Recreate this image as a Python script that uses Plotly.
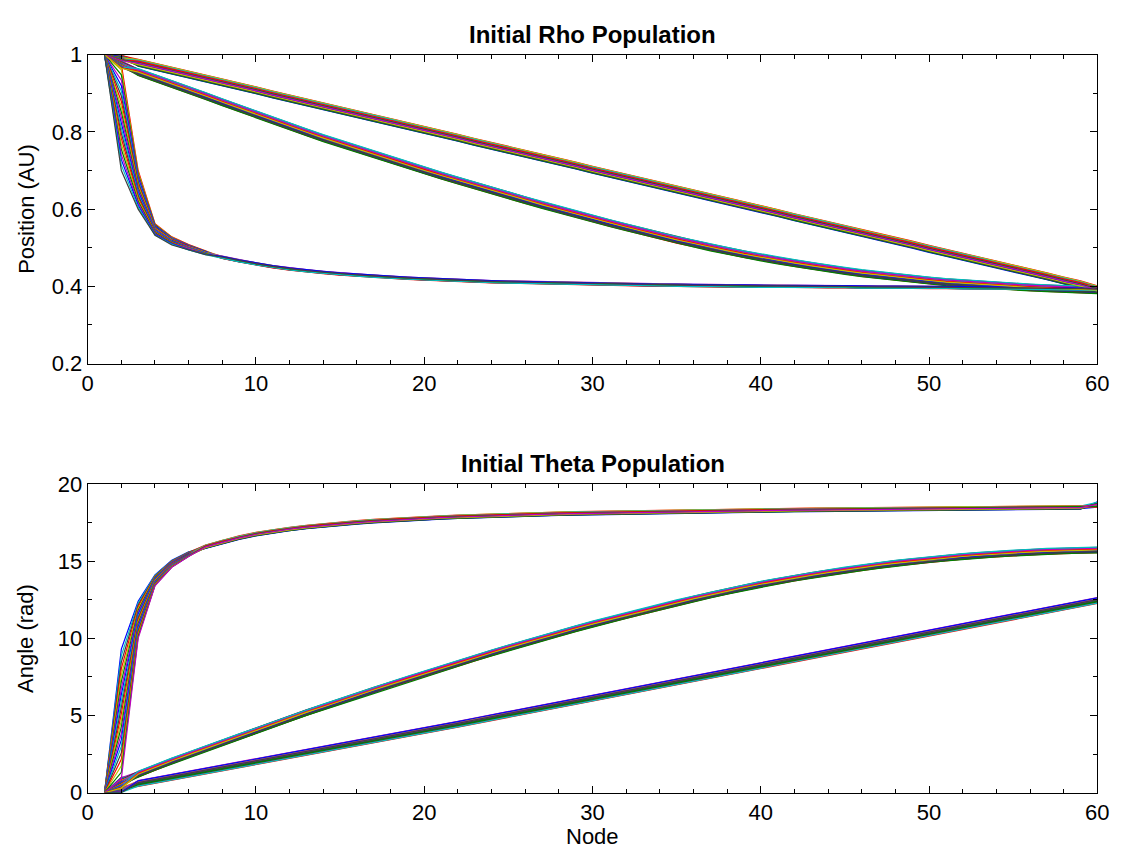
import plotly.graph_objects as go

# ---------------- data ----------------
NODES = list(range(1, 61))

COLORS = ["#0000FF", "#008000", "#FF0000", "#00BFBF", "#BF00BF", "#BFBF00", "#404040"]

# Rho population: three families of trajectories (base curves, node 1..60)
RHO_TOP = [1.000, 0.990, 0.979, 0.969, 0.959, 0.949, 0.938, 0.928, 0.918, 0.908,
           0.897, 0.887, 0.877, 0.867, 0.856, 0.846, 0.836, 0.826, 0.815, 0.805,
           0.795, 0.785, 0.774, 0.764, 0.754, 0.743, 0.733, 0.723, 0.713, 0.702,
           0.692, 0.682, 0.672, 0.661, 0.651, 0.641, 0.631, 0.620, 0.610, 0.600,
           0.590, 0.579, 0.569, 0.559, 0.549, 0.538, 0.528, 0.518, 0.508, 0.497,
           0.487, 0.477, 0.467, 0.456, 0.446, 0.436, 0.426, 0.415, 0.405, 0.392]
RHO_MID = [1.000, 0.975, 0.955, 0.940, 0.925, 0.910, 0.893, 0.877, 0.861, 0.845,
           0.830, 0.814, 0.799, 0.784, 0.770, 0.755, 0.741, 0.727, 0.713, 0.700,
           0.687, 0.674, 0.661, 0.648, 0.635, 0.623, 0.611, 0.599, 0.587, 0.575,
           0.564, 0.553, 0.542, 0.531, 0.520, 0.511, 0.501, 0.492, 0.483, 0.475,
           0.467, 0.460, 0.453, 0.446, 0.440, 0.434, 0.429, 0.424, 0.419, 0.415,
           0.411, 0.408, 0.405, 0.402, 0.399, 0.397, 0.395, 0.393, 0.391, 0.390]
RHO_LOW = [1.000, 0.840, 0.650, 0.546, 0.516, 0.500, 0.486, 0.475, 0.466, 0.458,
           0.451, 0.445, 0.440, 0.436, 0.432, 0.429, 0.426, 0.423, 0.421, 0.419,
           0.417, 0.415, 0.414, 0.412, 0.411, 0.410, 0.409, 0.408, 0.407, 0.406,
           0.405, 0.405, 0.404, 0.403, 0.403, 0.402, 0.402, 0.401, 0.401, 0.400,
           0.400, 0.400, 0.399, 0.399, 0.399, 0.398, 0.398, 0.398, 0.397, 0.397,
           0.397, 0.396, 0.396, 0.396, 0.395, 0.395, 0.394, 0.394, 0.393, 0.392]

# per-member values in the early (fanned-out) nodes
RHO_TOP_N2 = [1.000, 0.999, 0.998, 0.998, 0.997, 0.996, 0.995, 0.995, 0.994, 0.993,
              0.992, 0.992, 0.991, 0.990, 0.989, 0.989, 0.988, 0.987, 0.986, 0.986, 0.985]
RHO_MID_N2 = [0.985, 0.984, 0.983, 0.982, 0.981, 0.980, 0.979, 0.978, 0.977, 0.976,
              0.975, 0.974, 0.973, 0.972, 0.971, 0.970, 0.969, 0.968, 0.967, 0.966, 0.965]
RHO_LOW_N2 = [0.975, 0.961, 0.948, 0.934, 0.920, 0.906, 0.893, 0.879, 0.865, 0.851,
              0.838, 0.824, 0.810, 0.796, 0.783, 0.769, 0.755, 0.741, 0.728, 0.714, 0.700]
RHO_LOW_N3 = [0.700, 0.695, 0.690, 0.685, 0.680, 0.675, 0.670, 0.665, 0.660, 0.655,
              0.650, 0.645, 0.640, 0.635, 0.630, 0.625, 0.620, 0.615, 0.610, 0.605, 0.600]
RHO_LOW_N4 = [0.562, 0.560, 0.559, 0.557, 0.556, 0.554, 0.553, 0.551, 0.550, 0.548,
              0.547, 0.545, 0.544, 0.542, 0.541, 0.539, 0.538, 0.536, 0.535, 0.533, 0.532]
RHO_LOW_N5 = [0.528, 0.527, 0.526, 0.525, 0.524, 0.523, 0.522, 0.521, 0.520, 0.519,
              0.518, 0.517, 0.516, 0.515, 0.514, 0.513, 0.512, 0.511, 0.510, 0.509, 0.507]
RHO_LOW_N6 = [0.508, 0.507, 0.507, 0.506, 0.505, 0.504, 0.504, 0.503, 0.502, 0.501,
              0.501, 0.500, 0.499, 0.498, 0.498, 0.497, 0.496, 0.496, 0.495, 0.494, 0.494]
RHO_LOW_N7 = [0.492, 0.491, 0.491, 0.490, 0.490, 0.489, 0.489, 0.488, 0.488, 0.487,
              0.487, 0.486, 0.486, 0.485, 0.485, 0.484, 0.484, 0.483, 0.483, 0.482, 0.482]
# member-to-member scatter around each family (normalised, -1..1)
SPREAD = [-1.0, 0.6, -0.2, 1.0, -0.6, 0.2, 0.0, -0.8, 0.8, -0.4,
          0.4, 0.9, -0.9, 0.3, -0.3, 0.7, -0.7, 0.5, -0.5, 0.1, -0.1]
RHO_SCATTER = [0.009, 0.009, 0.003]        # top, middle, low family

# Theta population
THETA_TOP = [0.00, 5.00, 11.20, 13.80, 14.80, 15.45, 15.93, 16.25, 16.52, 16.75,
             16.93, 17.08, 17.21, 17.32, 17.42, 17.51, 17.59, 17.66, 17.72, 17.78,
             17.83, 17.87, 17.91, 17.95, 17.98, 18.01, 18.04, 18.07, 18.09, 18.11,
             18.13, 18.15, 18.17, 18.19, 18.21, 18.22, 18.24, 18.25, 18.27, 18.28,
             18.29, 18.31, 18.32, 18.33, 18.34, 18.35, 18.36, 18.37, 18.38, 18.39,
             18.40, 18.41, 18.42, 18.43, 18.44, 18.45, 18.46, 18.47, 18.48, 18.55]
THETA_MID = [0.00, 0.55, 1.20, 1.65, 2.05, 2.45, 2.85, 3.25, 3.62, 4.00,
             4.40, 4.80, 5.20, 5.55, 5.90, 6.28, 6.65, 7.00, 7.35, 7.70,
             8.05, 8.40, 8.72, 9.05, 9.38, 9.70, 10.00, 10.32, 10.62, 10.92,
             11.20, 11.48, 11.76, 12.03, 12.30, 12.55, 12.80, 13.05, 13.28, 13.50,
             13.70, 13.90, 14.08, 14.25, 14.42, 14.58, 14.72, 14.86, 14.98, 15.10,
             15.20, 15.30, 15.38, 15.46, 15.52, 15.58, 15.63, 15.67, 15.70, 15.72]
THETA_LOW = [0.00, 0.15, 0.60, 0.80, 1.00, 1.20, 1.40, 1.60, 1.80, 2.00,
             2.20, 2.40, 2.60, 2.80, 3.00, 3.20, 3.40, 3.60, 3.80, 4.00,
             4.22, 4.43, 4.65, 4.86, 5.08, 5.29, 5.51, 5.72, 5.94, 6.15,
             6.36, 6.57, 6.78, 6.99, 7.20, 7.41, 7.62, 7.83, 8.04, 8.25,
             8.46, 8.67, 8.88, 9.09, 9.30, 9.51, 9.72, 9.93, 10.14, 10.35,
             10.56, 10.77, 10.98, 11.19, 11.40, 11.61, 11.82, 12.03, 12.24, 12.45]

THETA_TOP_N2 = [9.30, 8.88, 8.46, 8.04, 7.62, 7.20, 6.78, 6.36, 5.94, 5.52,
                5.10, 4.68, 4.26, 3.84, 3.42, 3.00, 2.58, 2.16, 1.74, 1.32, 0.90]
THETA_TOP_N3 = [12.40, 12.28, 12.16, 12.04, 11.92, 11.80, 11.68, 11.56, 11.44, 11.32,
                11.20, 11.08, 10.96, 10.84, 10.72, 10.60, 10.48, 10.36, 10.24, 10.12, 10.00]
THETA_TOP_N4 = [14.10, 14.07, 14.03, 14.00, 13.96, 13.93, 13.89, 13.86, 13.82, 13.79,
                13.75, 13.72, 13.68, 13.65, 13.61, 13.58, 13.54, 13.51, 13.47, 13.44, 13.40]
THETA_TOP_N5 = [15.05, 15.03, 15.00, 14.98, 14.96, 14.94, 14.92, 14.89, 14.87, 14.85,
                14.83, 14.80, 14.78, 14.76, 14.74, 14.71, 14.69, 14.67, 14.65, 14.62, 14.60]
THETA_TOP_N6 = [15.60, 15.59, 15.57, 15.56, 15.54, 15.53, 15.51, 15.50, 15.48, 15.47,
                15.45, 15.44, 15.42, 15.41, 15.39, 15.38, 15.36, 15.35, 15.33, 15.32, 15.30]
THETA_TOP_N60 = [18.85, 18.50, 18.78, 18.52, 18.70, 18.55, 18.62, 18.50, 18.80, 18.58,
                 18.66, 18.51, 18.74, 18.56, 18.60, 18.53, 18.72, 18.50, 18.64, 18.54, 18.68]
THETA_MID_N2 = [1.00, 0.97, 0.93, 0.90, 0.86, 0.83, 0.79, 0.76, 0.72, 0.69,
                0.65, 0.62, 0.58, 0.55, 0.51, 0.48, 0.44, 0.41, 0.37, 0.34, 0.30]
THETA_LOW_N2 = [0.35, 0.33, 0.32, 0.30, 0.28, 0.26, 0.25, 0.23, 0.21, 0.19,
                0.18, 0.16, 0.14, 0.12, 0.11, 0.09, 0.07, 0.05, 0.04, 0.02, 0.00]
THETA_SCATTER = [0.11, 0.19, 0.19]         # top, middle, low family

RHO_TICKS = [0.2, 0.4, 0.6, 0.8, 1.0]
THETA_TICKS = [0, 5, 10, 15, 20]
NODE_TICKS = [0, 10, 20, 30, 40, 50, 60]


def member(base, spread, overrides):
    ys = [base[0]] + [v + spread for v in base[1:]]
    for node, val in overrides.items():
        ys[node - 1] = val
    return ys


fig = go.Figure()
LW = 1.2

# ---- Rho subplot ----
count = 0
for m in range(len(SPREAD)):
    groups = [
        member(RHO_TOP, SPREAD[m] * RHO_SCATTER[0], {2: RHO_TOP_N2[m]}),
        member(RHO_MID, SPREAD[(m + 7) % 21] * RHO_SCATTER[1], {2: RHO_MID_N2[m]}),
        member(RHO_LOW, SPREAD[(m + 14) % 21] * RHO_SCATTER[2],
               {2: RHO_LOW_N2[m], 3: RHO_LOW_N3[m], 4: RHO_LOW_N4[m], 5: RHO_LOW_N5[m],
                6: RHO_LOW_N6[m], 7: RHO_LOW_N7[m]}),
    ]
    for ys in groups:
        fig.add_trace(go.Scatter(x=NODES, y=ys, mode="lines", xaxis="x", yaxis="y",
                                 line=dict(color=COLORS[count % 7], width=LW),
                                 hoverinfo="skip"))
        count += 1

# ---- Theta subplot ----
count = 0
for m in range(len(SPREAD)):
    groups = [
        member(THETA_TOP, SPREAD[m] * THETA_SCATTER[0],
               {2: THETA_TOP_N2[m], 3: THETA_TOP_N3[m], 4: THETA_TOP_N4[m],
                5: THETA_TOP_N5[m], 6: THETA_TOP_N6[m], 60: THETA_TOP_N60[m]}),
        member(THETA_MID, SPREAD[(m + 7) % 21] * THETA_SCATTER[1], {2: THETA_MID_N2[m]}),
        member(THETA_LOW, SPREAD[(m + 14) % 21] * THETA_SCATTER[2], {2: THETA_LOW_N2[m]}),
    ]
    for ys in groups:
        fig.add_trace(go.Scatter(x=NODES, y=ys, mode="lines", xaxis="x2", yaxis="y2",
                                 line=dict(color=COLORS[count % 7], width=LW),
                                 hoverinfo="skip"))
        count += 1

# ---------------- layout ----------------
W, H = 1131, 863
L, R = 83, 1109
TOP1, BOT1 = 44, 362
TOP2, BOT2 = 486, 804
FONT = "Liberation Sans, Arial, Helvetica, sans-serif"
TICK_SIZE = 22


def py(px):
    return 1 - px / H


axis_common = dict(showline=True, linecolor="black", linewidth=1, mirror="ticks",
                   ticks="inside", ticklen=7, tickwidth=1, tickcolor="black",
                   showgrid=False, zeroline=False,
                   tickfont=dict(family=FONT, size=TICK_SIZE, color="black"))

fig.update_layout(
    width=W, height=H,
    margin=dict(l=0, r=0, t=0, b=0),
    paper_bgcolor="white", plot_bgcolor="white",
    showlegend=False,
    font=dict(family=FONT, size=TICK_SIZE, color="black"),
    xaxis=dict(domain=[L / W, R / W], range=[0, 60], anchor="y",
               tickmode="array", tickvals=NODE_TICKS,
               minor=dict(dtick=2, tick0=0, ticks="inside", ticklen=4, tickcolor="black", showgrid=False),
               **axis_common),
    yaxis=dict(domain=[py(BOT1), py(TOP1)], range=[0.2, 1.0], anchor="x",
               tickmode="array", tickvals=RHO_TICKS, ticktext=["0.2", "0.4", "0.6", "0.8", "1"],
               minor=dict(dtick=0.1, tick0=0, ticks="inside", ticklen=4, tickcolor="black", showgrid=False),
               **axis_common),
    xaxis2=dict(domain=[L / W, R / W], range=[0, 60], anchor="y2",
                tickmode="array", tickvals=NODE_TICKS,
                minor=dict(dtick=2, tick0=0, ticks="inside", ticklen=4, tickcolor="black", showgrid=False),
                **axis_common),
    yaxis2=dict(domain=[py(BOT2), py(TOP2)], range=[0, 20], anchor="x2",
                tickmode="array", tickvals=THETA_TICKS,
                minor=dict(dtick=2.5, tick0=0, ticks="inside", ticklen=4, tickcolor="black", showgrid=False),
                **axis_common),
)

cx = (L + R) / 2 / W
ann = [
    dict(text="<b>Initial Rho Population</b>", x=cx, y=py(23), size=24),
    dict(text="<b>Initial Theta Population</b>", x=cx, y=py(465), size=24),
    dict(text="Node", x=cx, y=py(849), size=TICK_SIZE),
]
for a in ann:
    fig.add_annotation(text=a["text"], x=a["x"], y=a["y"], xref="paper", yref="paper",
                       xanchor="center", yanchor="middle", showarrow=False,
                       font=dict(family=FONT, size=a["size"], color="black"))
for text, ypx in [("Position (AU)", (TOP1 + BOT1) / 2), ("Angle (rad)", (TOP2 + BOT2) / 2)]:
    fig.add_annotation(text=text, x=20 / W, y=py(ypx), xref="paper", yref="paper",
                       xanchor="center", yanchor="middle", textangle=-90, showarrow=False,
                       font=dict(family=FONT, size=TICK_SIZE, color="black"))

fig.write_html("out.html")
